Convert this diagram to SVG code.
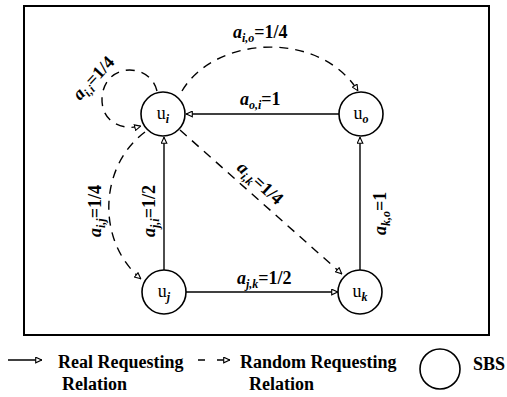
<svg xmlns="http://www.w3.org/2000/svg" width="507" height="397" viewBox="0 0 507 397">
<defs>
<marker id="tri" viewBox="0 0 10 10" refX="10" refY="5" markerWidth="7" markerHeight="7" markerUnits="userSpaceOnUse" orient="auto">
<path d="M1,1 L9.5,5 L1,9 Z" fill="#fff" stroke="#000" stroke-width="1.6"/>
</marker>
<style>
.frame{fill:none;stroke:#000;stroke-width:2}
.node{fill:#fff;stroke:#000;stroke-width:1.6}
.solid{fill:none;stroke:#000;stroke-width:1.4;marker-end:url(#tri)}
.dash{fill:none;stroke:#000;stroke-width:1.4;stroke-dasharray:9 7;marker-end:url(#tri)}
text{font-family:"Liberation Serif","Times New Roman",serif;fill:#000}
.lbl{font-size:18px;font-weight:bold}
.nl{font-size:18px;text-anchor:middle}
.it{font-style:italic}
.sub{font-size:12px;font-style:italic;font-weight:bold}
.leg{font-size:18px;font-weight:bold}
</style>
</defs>
<rect class="frame" x="24" y="6" width="465" height="329"/>
<g id="connectors">
<line class="solid" x1="339" y1="114" x2="186" y2="114"/>
<line class="solid" x1="164" y1="270" x2="164" y2="137"/>
<line class="solid" x1="186" y1="292" x2="338" y2="292"/>
<line class="solid" x1="360" y1="270" x2="360" y2="137"/>
<path class="dash" d="M157,91 C150,62 104,62 102,98 C101,122 122,131 141,126"/>
<path class="dash" d="M182,91 C215,35 320,30 358,91"/>
<path class="dash" d="M180,130 L342,274"/>
<path class="dash" d="M145,132 C100,165 95,240 141,279"/>
</g>
<g id="labels">
<text class="lbl" x="233" y="38"><tspan class="it">a</tspan><tspan class="sub" dy="4">i,o</tspan><tspan dy="-4">=1/4</tspan></text>
<text class="lbl" x="240" y="105"><tspan class="it">a</tspan><tspan class="sub" dy="4">o,i</tspan><tspan dy="-4">=1</tspan></text>
<text class="lbl" x="237" y="284"><tspan class="it">a</tspan><tspan class="sub" dy="4">j,k</tspan><tspan dy="-4">=1/2</tspan></text>
<text class="lbl" transform="translate(80,101) rotate(-47)"><tspan class="it">a</tspan><tspan class="sub" dy="4">i,i</tspan><tspan dy="-4">=1/4</tspan></text>
<text class="lbl" transform="translate(236,169) rotate(42)"><tspan class="it">a</tspan><tspan class="sub" dy="4">i,k</tspan><tspan dy="-4">=1/4</tspan></text>
<text class="lbl" transform="translate(101,237) rotate(-90)"><tspan class="it">a</tspan><tspan class="sub" dy="4">i,j</tspan><tspan dy="-4">=1/4</tspan></text>
<text class="lbl" transform="translate(155,237) rotate(-90)"><tspan class="it">a</tspan><tspan class="sub" dy="4">j,i</tspan><tspan dy="-4">=1/2</tspan></text>
<text class="lbl" transform="translate(386,235) rotate(-90)"><tspan class="it">a</tspan><tspan class="sub" dy="4">k,o</tspan><tspan dy="-4">=1</tspan></text>
</g>
<g id="node-ui"><circle class="node" cx="163" cy="114" r="22"/><text class="nl" x="163" y="119">u<tspan class="sub" font-size="13" dy="4">i</tspan></text></g>
<g id="node-uo"><circle class="node" cx="361" cy="114" r="22"/><text class="nl" x="361" y="119">u<tspan class="sub" font-size="13" dy="4">o</tspan></text></g>
<g id="node-uj"><circle class="node" cx="164" cy="292" r="22"/><text class="nl" x="164" y="297">u<tspan class="sub" font-size="13" dy="4">j</tspan></text></g>
<g id="node-uk"><circle class="node" cx="360" cy="292" r="22"/><text class="nl" x="360" y="297">u<tspan class="sub" font-size="13" dy="4">k</tspan></text></g>
<g id="legend">
<line class="solid" x1="8" y1="360" x2="42" y2="360"/>
<text class="leg" x="58" y="368">Real Requesting</text>
<text class="leg" x="62" y="390">Relation</text>
<path d="M198,360 H205 M217,360 H230" fill="none" stroke="#000" stroke-width="1.4" marker-end="url(#tri)"/>
<text class="leg" x="240" y="368">Random Requesting</text>
<text class="leg" x="249" y="390">Relation</text>
<circle class="node" cx="440" cy="369" r="20"/>
<text class="leg" x="473" y="370">SBS</text>
</g>
</svg>
